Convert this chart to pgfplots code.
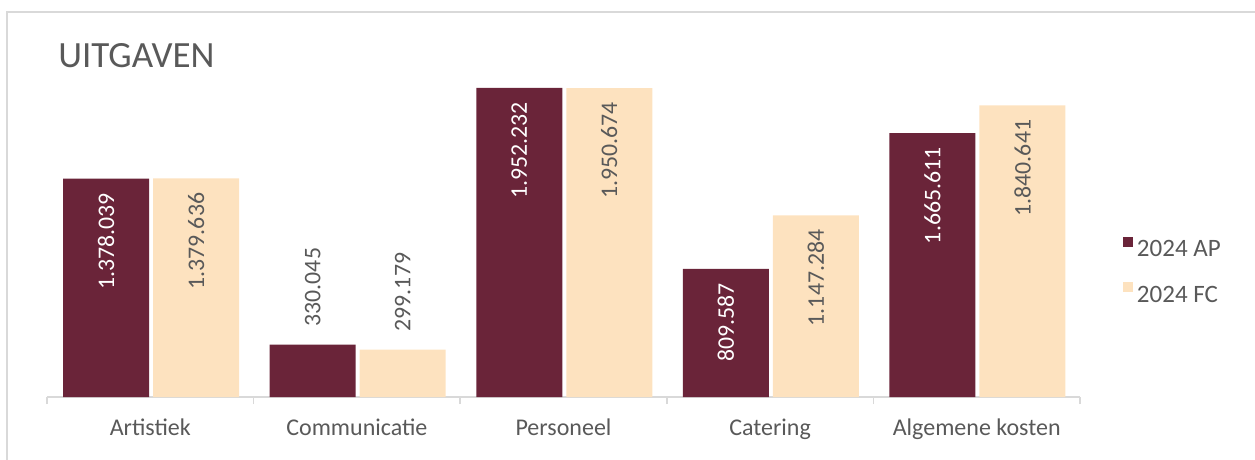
\documentclass[border=0pt]{standalone}
\usepackage{pgfplots}
\pgfplotsset{compat=1.18}
\usepackage{pgfplotstable}
\usepackage{fontspec}
\setmainfont{Carlito}
\definecolor{apc}{HTML}{6A2439}
\definecolor{fcc}{HTML}{FDE2BF}
\definecolor{txt}{HTML}{595959}
\definecolor{brd}{HTML}{D9D9D9}

\pgfplotstableread{
x y label
0 1378039 1.378.039
1 330045 330.045
2 1952232 1.952.232
3 809587 809.587
4 1665611 1.665.611
}\apdata
\pgfplotstableread{
x y label
0 1379636 1.379.636
1 299179 299.179
2 1950674 1.950.674
3 1147284 1.147.284
4 1840641 1.840.641
}\fcdata

\pgfplotsset{
 lblin/.style={draw=none, fill=none, forget plot, point meta=explicit symbolic, nodes near coords,
   restrict y to domain=600000:3000000,
   nodes near coords style={rotate=90, anchor=east, inner xsep=7pt, inner ysep=0pt, text=#1, font=\fontsize{11.9}{14}\selectfont}},
 lblout/.style={draw=none, fill=none, forget plot, point meta=explicit symbolic, nodes near coords,
   restrict y to domain=0:600000,
   nodes near coords style={rotate=90, anchor=west, inner xsep=9pt, inner ysep=0pt, text=txt, font=\fontsize{11.9}{14}\selectfont}},
}

\begin{document}
\begin{tikzpicture}
\path[use as bounding box] (0,0) rectangle (627.5pt,-230pt);
\draw[brd, line width=1pt] (3.5pt,-230pt) -- (3.5pt,-6pt) -- (627.5pt,-6pt);
\node[anchor=base west, inner sep=0pt, text=txt, font=\fontsize{18.5}{22}\selectfont] at (29pt,-34pt) {UITGAVEN};
\begin{axis}[
 at={(23.5pt,-198.5pt)}, anchor=south west,
 scale only axis, width=516.5pt, height=158.4pt,
 xmin=-0.5, xmax=4.5, ymin=0, ymax=2000000,
 clip=false,
 ybar, bar width=43pt,
 axis y line=none,
 axis x line*=bottom,
 x axis line style={brd, line width=0.75pt},
 xtick={0,...,4},
 xticklabels={Artistiek,Communicatie,Personeel,Catering,Algemene kosten},
 minor xtick={-0.5,0.5,...,4.5},
 major tick length=0pt, minor tick length=3.5pt,
 tick align=outside,
 every tick/.style={brd, line width=0.75pt},
 xticklabel style={font=\fontsize{12}{14}\selectfont, text=txt, anchor=base, yshift=-19pt},
 legend style={at={(1,0.392)}, anchor=west, xshift=21.5pt, draw=none, fill=none,
   font=\fontsize{12.5}{15}\selectfont, text=txt, row sep=9pt, inner sep=0pt, outer sep=0pt,
   /tikz/every even column/.append style={column sep=6.5pt}},
 legend cell align=left,
]
\addplot[fill=apc, draw=none, bar shift=-22.1pt,
  legend image code/.code={\fill[apc] (0pt,1.5pt) rectangle (5pt,6.5pt);}]
  table[x=x, y=y] {\apdata};
\addlegendentry{2024 AP}
\addplot[fill=fcc, draw=none, bar shift=22.9pt,
  legend image code/.code={\fill[fcc] (0pt,1.5pt) rectangle (5pt,6.5pt);}]
  table[x=x, y=y] {\fcdata};
\addlegendentry{2024 FC}
\addplot[bar shift=-22.1pt, lblin=white] table[x=x, y=y, meta=label] {\apdata};
\addplot[bar shift=-22.1pt, lblout] table[x=x, y=y, meta=label] {\apdata};
\addplot[bar shift=22.9pt, lblin=txt] table[x=x, y=y, meta=label] {\fcdata};
\addplot[bar shift=22.9pt, lblout] table[x=x, y=y, meta=label] {\fcdata};
\end{axis}
\end{tikzpicture}
\end{document}
